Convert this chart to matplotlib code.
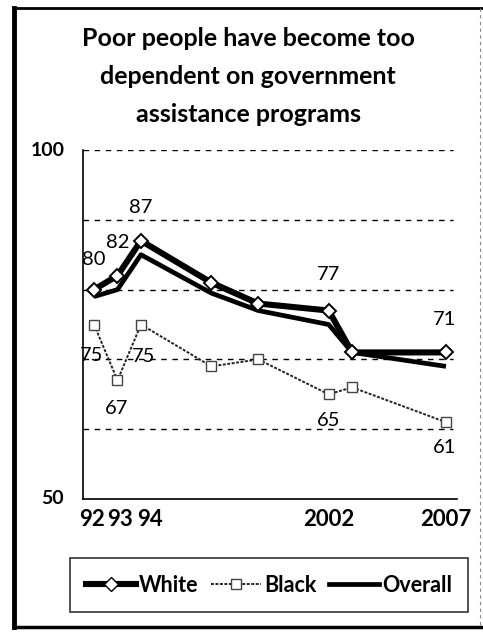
import matplotlib
matplotlib.use('Agg')
import matplotlib.pyplot as plt
from matplotlib.lines import Line2D
from matplotlib.transforms import ScaledTranslation

years = [1992, 1993, 1994, 1997, 1999, 2002, 2003, 2007]
white = [80, 82, 87, 81, 78, 77, 71, 71]
black = [75, 67, 75, 69, 70, 65, 66, 61]
overall = [79, 80, 85, 79.5, 77, 75, 71, 69]

xtick_pos = [1992, 1993, 1994, 2002, 2007]
xtick_labels = ['92', '93', '94', '2002', '2007']

# which points get a label, and where it goes (offset in points)
white_labels = {1992: (0, 22), 1993: (0, 24), 1994: (0, 24), 2002: (0, 26), 2007: (-1, 24)}
black_labels = {1992: (-2, -22), 1993: (-1, -20), 1994: (2, -23), 2002: (0, -19), 2007: (-1, -18)}

plt.rcParams['font.family'] = ['Lato', 'DejaVu Sans']

fig = plt.figure(figsize=(4.83, 6.32), dpi=100)
ax = fig.add_axes([83 / 483, 133 / 632, 374 / 483, 349 / 632])

ax.plot(years, overall, color='black', lw=3.4, solid_capstyle='butt', zorder=3)
ax.plot(years, white, color='black', lw=4.4, marker='D', ms=7, solid_capstyle='butt',
        mfc='white', mec='black', mew=1.4, zorder=4)
ax.plot(years, black, color='#222222', lw=1.4, ls=(0, (1.5, 0.8)), marker='s', ms=7.5,
        mfc='white', mec='#444444', mew=1.0, zorder=3)

for x, y in zip(years, white):
    if x in white_labels:
        ax.annotate(str(y), (x, y), xytext=white_labels[x], textcoords='offset points',
                    ha='center', va='center', fontsize=14.5)
for x, y in zip(years, black):
    if x in black_labels:
        ax.annotate(str(y), (x, y), xytext=black_labels[x], textcoords='offset points',
                    ha='center', va='center', fontsize=14.5)

ax.set_xlim(1991.53, 2007.47)
ax.set_ylim(50, 100)
for g in [60, 70, 80, 90, 100]:
    ax.plot([1991.53, 2007.3], [g, g], color='black', lw=1.0, ls=(0, (4, 4)), zorder=1)

ax.set_xticks(xtick_pos)
ax.set_xticklabels(xtick_labels, fontsize=16, fontweight='bold')
ax.set_yticks([])
ax.tick_params(length=0)
ax.tick_params(axis='x', pad=7)
# y end labels placed next to the spine
ax.text(-0.05, 100, '100', transform=ax.get_yaxis_transform(), ha='right', va='center',
        fontsize=14, fontweight='bold')
ax.text(-0.05, 50, '50', transform=ax.get_yaxis_transform(), ha='right', va='center',
        fontsize=14, fontweight='bold')
# the short year labels sit a bit wider apart than the points
shifts = [-2, 3, 9, 0, 0]
for lab, dx in zip(ax.get_xticklabels(), shifts):
    lab.set_transform(lab.get_transform() + ScaledTranslation(dx / 100, 0, fig.dpi_scale_trans))
for s in ['top', 'right']:
    ax.spines[s].set_visible(False)
ax.spines['left'].set_linewidth(1.2)
ax.spines['bottom'].set_linewidth(1.2)

title_lines = ['Poor people have become too', 'dependent on government', 'assistance programs']
for line, ypx in zip(title_lines, [38, 77, 114]):
    fig.text(248 / 483, 1 - ypx / 632, line, ha='center', va='center',
             fontsize=18, fontweight='bold')

handles = [
    Line2D([], [], color='black', lw=4.4, marker='D', ms=7, mfc='white', mec='black'),
    Line2D([], [], color='#222222', lw=1.4, ls=(0, (1.5, 0.8)), marker='s', ms=7.5,
           mfc='white', mec='#444444'),
    Line2D([], [], color='black', lw=3.4),
]
leg = fig.legend(handles, ['White', 'Black', 'Overall'], loc='center',
                 bbox_to_anchor=(269 / 483, 1 - 585 / 632), ncol=3, frameon=True,
                 fancybox=False, edgecolor='black', fontsize=15.5, handlelength=2.3,
                 handletextpad=0.15, columnspacing=0.6, borderpad=0.75)
leg.get_frame().set_linewidth(1.2)
for t in leg.get_texts():
    t.set_fontweight('bold')

# outer frame
fig.add_artist(Line2D([14 / 483, 14 / 483], [1 - 8 / 632, 1 - 627 / 632], color='black', lw=3.5))
fig.add_artist(Line2D([14 / 483, 482 / 483], [1 - 8 / 632, 1 - 8 / 632], color='black', lw=2))
fig.add_artist(Line2D([14 / 483, 482 / 483], [1 - 627 / 632, 1 - 627 / 632], color='black', lw=2.5))
fig.add_artist(Line2D([480 / 483, 480 / 483], [1 - 8 / 632, 1 - 627 / 632], color='#888888',
                      lw=0.8, ls=(0, (3, 3))))

fig.savefig('out.png', dpi=100)
